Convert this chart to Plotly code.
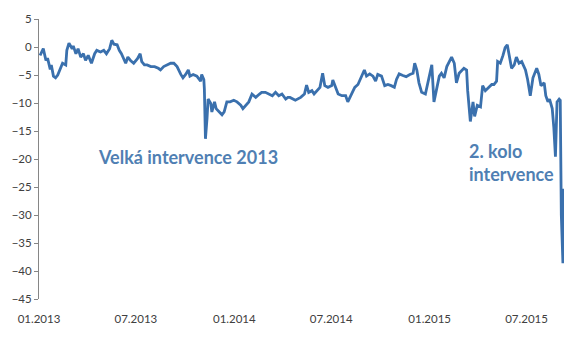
import plotly.graph_objects as go

dates = [
    "2013-01-03", "2013-01-09", "2013-01-14", "2013-01-17", "2013-01-22", "2013-01-24", "2013-01-28",
    "2013-02-01", "2013-02-05", "2013-02-11", "2013-02-14", "2013-02-20", "2013-02-22", "2013-02-26",
    "2013-03-04", "2013-03-06", "2013-03-11", "2013-03-15", "2013-03-20", "2013-03-25", "2013-03-29",
    "2013-04-03", "2013-04-09", "2013-04-15", "2013-04-19", "2013-04-26", "2013-05-02", "2013-05-07",
    "2013-05-13", "2013-05-17", "2013-05-21", "2013-05-27", "2013-05-31", "2013-06-04", "2013-06-07",
    "2013-06-12", "2013-06-16", "2013-06-21", "2013-06-27", "2013-07-04", "2013-07-09", "2013-07-12",
    "2013-07-17", "2013-07-22", "2013-07-29", "2013-08-05", "2013-08-12", "2013-08-16", "2013-08-22",
    "2013-08-29", "2013-09-04", "2013-09-10", "2013-09-16", "2013-09-23", "2013-09-27", "2013-10-02",
    "2013-10-07", "2013-10-10", "2013-10-16", "2013-10-23", "2013-10-30", "2013-11-01", "2013-11-05",
    "2013-11-06", "2013-11-07", "2013-11-08", "2013-11-11", "2013-11-13", "2013-11-18", "2013-11-20",
    "2013-11-25", "2013-11-28", "2013-12-04", "2013-12-09", "2013-12-13", "2013-12-18", "2013-12-24",
    "2013-12-31", "2014-01-06", "2014-01-13", "2014-01-17", "2014-01-22", "2014-01-28", "2014-02-03",
    "2014-02-10", "2014-02-17", "2014-02-21", "2014-02-28", "2014-03-06", "2014-03-13", "2014-03-19",
    "2014-03-25", "2014-03-31", "2014-04-07", "2014-04-11", "2014-04-15", "2014-04-25", "2014-05-05",
    "2014-05-12", "2014-05-16", "2014-05-20", "2014-05-26", "2014-05-30", "2014-06-04", "2014-06-10",
    "2014-06-15", "2014-06-19", "2014-06-25", "2014-07-02", "2014-07-04", "2014-07-09", "2014-07-14",
    "2014-07-21", "2014-07-28", "2014-08-01", "2014-08-06", "2014-08-14", "2014-08-20", "2014-08-27",
    "2014-09-01", "2014-09-05", "2014-09-11", "2014-09-17", "2014-09-22", "2014-09-26", "2014-10-03",
    "2014-10-09", "2014-10-15", "2014-10-21", "2014-10-27", "2014-10-31", "2014-11-05", "2014-11-12",
    "2014-11-18", "2014-11-25", "2014-12-01", "2014-12-04", "2014-12-08", "2014-12-12", "2014-12-17",
    "2014-12-24", "2015-01-02", "2015-01-05", "2015-01-09", "2015-01-14", "2015-01-19", "2015-01-23",
    "2015-01-28", "2015-02-02", "2015-02-06", "2015-02-11", "2015-02-16", "2015-02-20", "2015-02-25",
    "2015-03-02", "2015-03-06", "2015-03-11", "2015-03-13", "2015-03-18", "2015-03-23", "2015-03-26",
    "2015-03-31", "2015-04-06", "2015-04-10", "2015-04-15", "2015-04-21", "2015-04-27", "2015-05-01",
    "2015-05-06", "2015-05-08", "2015-05-13", "2015-05-18", "2015-05-22", "2015-05-26", "2015-05-29",
    "2015-06-03", "2015-06-08", "2015-06-12", "2015-06-17", "2015-06-22", "2015-06-29", "2015-07-03",
    "2015-07-08", "2015-07-13", "2015-07-20", "2015-07-24", "2015-07-28", "2015-08-03", "2015-08-06",
    "2015-08-10", "2015-08-13", "2015-08-18", "2015-08-21", "2015-08-24", "2015-08-27", "2015-08-31",
    "2015-09-02", "2015-09-04", "2015-09-07", "2015-09-08",
]

values = [
    -1.5, -0.3, -2.4, -2.0, -4.0, -3.2, -5.2,
    -5.5, -5.0, -3.5, -2.9, -3.2, -0.6, 0.7,
    -0.3, 0.2, -1.2, -0.3, -1.8, -1.2, -2.4,
    -1.5, -2.9, -1.2, -0.6, -0.9, -0.6, -1.2,
    -0.3, 1.2, 0.5, 0.4, -0.6, -1.2, -1.8,
    -2.9, -1.8, -2.4, -2.9, -2.1, -1.2, -2.6,
    -3.2, -3.2, -3.5, -3.5, -3.8, -4.1, -3.5,
    -3.2, -2.9, -2.9, -3.5, -4.9, -5.5, -4.9,
    -4.1, -5.2, -4.9, -5.2, -6.1, -4.9, -5.8,
    -7.5, -13.8, -16.4, -12.7, -9.3, -10.1, -11.6,
    -9.8, -11.0, -11.6, -12.1, -11.6, -9.8, -9.8,
    -9.5, -9.8, -10.4, -11.0, -10.4, -9.8, -8.4,
    -9.0, -8.4, -8.1, -8.1, -8.4, -8.7, -8.1,
    -8.7, -8.4, -9.3, -9.0, -9.0, -9.5, -9.0,
    -8.4, -6.8, -8.1, -7.8, -8.4, -7.8, -7.2,
    -4.7, -6.9, -7.2, -6.9, -5.9, -7.2, -8.4,
    -8.7, -8.7, -9.8, -8.7, -7.2, -6.7, -5.2,
    -4.1, -5.2, -4.8, -5.2, -6.1, -4.9, -5.2,
    -6.9, -6.7, -6.9, -7.2, -5.8, -4.8, -5.1,
    -5.3, -4.9, -4.7, -2.9, -4.1, -6.4, -8.1,
    -8.4, -4.7, -3.2, -9.8, -7.5, -5.2, -4.7,
    -5.5, -3.5, -2.6, -1.8, -2.9, -6.4, -4.7,
    -4.1, -3.8, -4.1, -7.8, -13.3, -9.8, -12.4,
    -10.4, -10.7, -6.9, -7.8, -7.2, -6.7, -6.7,
    -6.1, -2.6, -2.9, -1.5, -0.1, 0.4, -1.2,
    -3.8, -3.2, -1.8, -2.9, -2.6, -4.1, -5.8,
    -8.7, -5.5, -3.8, -4.9, -6.9, -6.4, -8.7,
    -9.8, -9.3, -11.0, -14.4, -19.6, -9.8, -9.3,
    -9.5, -30.0, -38.6, -25.3,
]

y_ticks = [5, 0, -5, -10, -15, -20, -25, -30, -35, -40, -45]
x_ticks = ["2013-01-01", "2013-07-01", "2014-01-01", "2014-07-01", "2015-01-01", "2015-07-01"]
x_tick_labels = ["01.2013", "07.2013", "01.2014", "07.2014", "01.2015", "07.2015"]
annotation_1 = "Velká intervence 2013"
annotation_2 = "2. kolo<br>intervence"

LINE = "#3a70ad"
TEXT = "#4f7fb3"
AXIS = "#868686"
LABEL = "#404040"
FONT = "Lato"

fig = go.Figure()
fig.add_trace(go.Scatter(
    x=dates, y=values, mode="lines",
    line=dict(color=LINE, width=2.8),
    showlegend=False, hoverinfo="skip",
))

x_range = ["2013-01-01", "2015-09-09"]

fig.update_layout(
    width=579, height=337,
    margin=dict(l=38, r=15, t=14, b=33),
    paper_bgcolor="white", plot_bgcolor="white",
    font=dict(family=FONT, size=11, color=LABEL),
    xaxis=dict(
        range=x_range, showline=False, showgrid=False, zeroline=False,
        tickmode="array", tickvals=x_ticks, ticktext=x_tick_labels,
        ticks="outside", ticklen=9, tickcolor="rgba(0,0,0,0)",
        tickfont=dict(size=11.5, color=LABEL),
    ),
    xaxis2=dict(
        overlaying="x", matches="x", anchor="free", position=0.9,
        range=x_range, showline=True, linecolor=AXIS, linewidth=1,
        showgrid=False, zeroline=False,
        tickmode="array", tickvals=x_ticks, ticks="inside", ticklen=4,
        tickcolor=AXIS, showticklabels=False,
    ),
    yaxis=dict(
        range=[-45, 5], tickmode="array", tickvals=y_ticks,
        showline=True, linecolor=AXIS, linewidth=1,
        ticks="outside", ticklen=4, tickcolor=AXIS,
        showgrid=False, zeroline=False,
        tickfont=dict(size=11.5, color=LABEL),
    ),
    annotations=[
        dict(text=annotation_1, xref="paper", yref="paper", x=0.108, y=0.508,
             xanchor="left", yanchor="middle", showarrow=False, align="left",
             font=dict(family=FONT, size=18, color=TEXT, weight="bold")),
        dict(text=annotation_2, xref="paper", yref="paper", x=0.815, y=0.489,
             xanchor="left", yanchor="middle", showarrow=False, align="left",
             font=dict(family=FONT, size=18, color=TEXT, weight="bold")),
    ],
)

fig.write_html("out.html")
